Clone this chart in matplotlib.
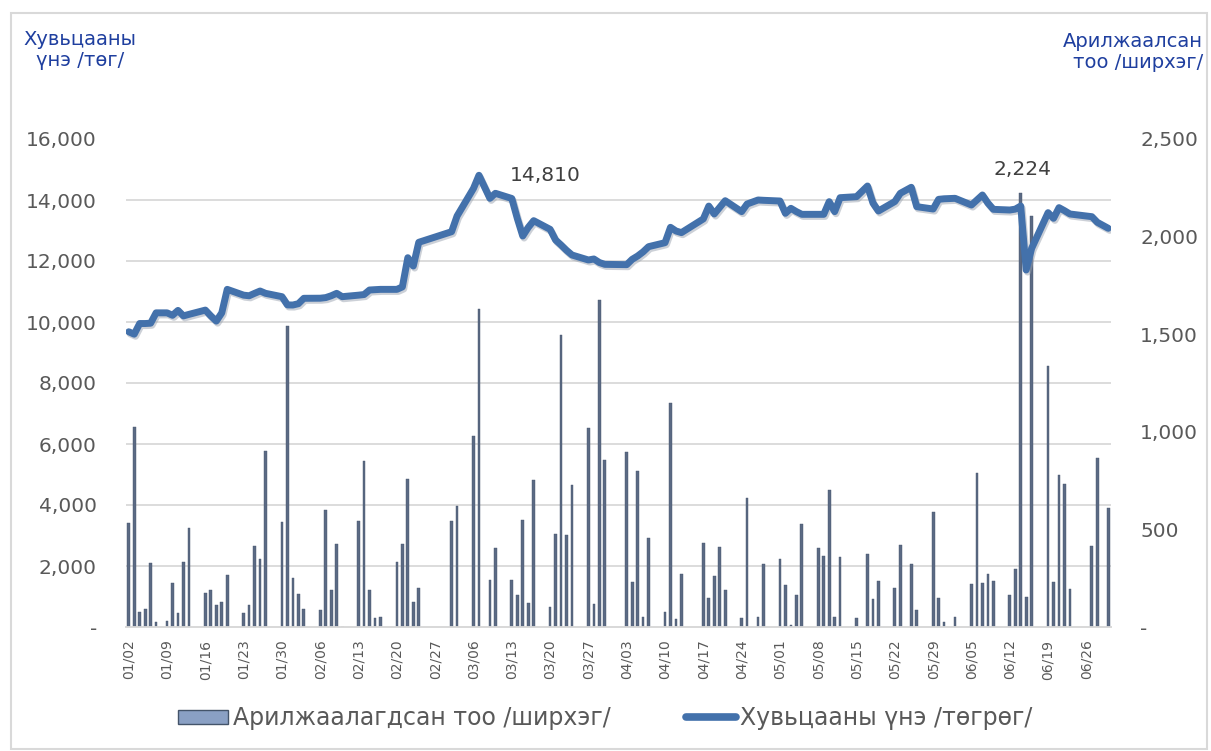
import matplotlib
matplotlib.use('Agg')
from matplotlib import pyplot as plt
import matplotlib.dates as mdates
import matplotlib.patheffects as pe
from matplotlib.patches import Patch, Rectangle
from matplotlib.lines import Line2D
from matplotlib.ticker import FuncFormatter, MultipleLocator
import pandas as pd

year = 2023
days = ['01/02', '01/03', '01/04', '01/05', '01/06', '01/07', '01/09', '01/10', '01/11', '01/12',
        '01/13', '01/16', '01/17', '01/18', '01/19', '01/20', '01/23', '01/24', '01/25', '01/26',
        '01/27', '01/30', '01/31', '02/01', '02/02', '02/03', '02/06', '02/07', '02/08', '02/09',
        '02/10', '02/13', '02/14', '02/15', '02/16', '02/17', '02/20', '02/21', '02/22', '02/23',
        '02/24', '03/02', '03/03', '03/06', '03/07', '03/09', '03/10', '03/13', '03/14', '03/15',
        '03/16', '03/17', '03/20', '03/21', '03/22', '03/23', '03/24', '03/27', '03/28', '03/29',
        '03/30', '04/03', '04/04', '04/05', '04/06', '04/07', '04/10', '04/11', '04/12', '04/13',
        '04/17', '04/18', '04/19', '04/20', '04/21', '04/24', '04/25', '04/27', '04/28', '05/01',
        '05/02', '05/03', '05/04', '05/05', '05/08', '05/09', '05/10', '05/11', '05/12', '05/15',
        '05/17', '05/18', '05/19', '05/22', '05/23', '05/25', '05/26', '05/29', '05/30', '05/31',
        '06/02', '06/05', '06/06', '06/07', '06/08', '06/09', '06/12', '06/13', '06/14', '06/15',
        '06/16', '06/19', '06/20', '06/21', '06/22', '06/23', '06/27', '06/28', '06/30']

volume = [531, 1026, 75, 92, 326, 24, 29, 224, 73, 331,
          507, 174, 188, 113, 128, 266, 70, 113, 415, 347,
          903, 536, 1542, 249, 169, 92, 87, 599, 190, 424,
          0, 543, 852, 190, 44, 50, 331, 424, 760, 126,
          198, 543, 620, 980, 1629, 241, 403, 241, 164, 548,
          125, 753, 101, 475, 1496, 472, 727, 1021, 118, 1675,
          855, 898, 229, 801, 50, 454, 75, 1149, 41, 270,
          429, 147, 261, 411, 190, 44, 659, 50, 323, 348,
          215, 8, 164, 526, 403, 364, 702, 50, 357, 44,
          372, 142, 237, 198, 420, 323, 87, 587, 147, 24,
          50, 220, 791, 227, 271, 236, 164, 295, 2224, 152,
          2105, 1339, 229, 779, 733, 193, 415, 868, 608]

price = [9680, 9600, 9950, 9950, 9960, 10300, 10300, 10220, 10380, 10200,
         10250, 10390, 10200, 10030, 10300, 11070, 10880, 10860, 10940, 11016,
         10940, 10830, 10560, 10557, 10600, 10777, 10780, 10800, 10860, 10940,
         10830, 10880, 10900, 11049, 11060, 11070, 11070, 11150, 12108, 11836,
         12613, 12961, 13475, 14380, 14810, 14055, 14220, 14050, 13400, 12820,
         13100, 13322, 13038, 12689, 12525, 12350, 12197, 12033, 12066, 11950,
         11890, 11880, 12055, 12164, 12300, 12470, 12600, 13104, 12984, 12930,
         13380, 13800, 13541, 13760, 13977, 13618, 13869, 14000, 13990, 13967,
         13563, 13727, 13620, 13530, 13530, 13530, 13945, 13618, 14076, 14109,
         14459, 13900, 13639, 13950, 14220, 14416, 13781, 13705, 14022, 14040,
         14055, 13836, 14000, 14164, 13900, 13694, 13672, 13700, 13803, 11705,
         12415, 13585, 13400, 13749, 13650, 13541, 13453, 13268, 13072]

bar_label = 'Арилжаалагдсан тоо /ширхэг/'
line_label = 'Хувьцааны үнэ /төгрөг/'
left_title = 'Хувьцааны\nүнэ /төг/'
right_title = 'Арилжаалсан\nтоо /ширхэг/'

dates = pd.to_datetime([f'{year}/{d}' for d in days], format='%Y/%m/%d')

grey = '#595959'
blue = '#4371ab'
title_blue = '#1f3f9f'

plt.rcParams['font.family'] = ['DejaVu Sans']
fig = plt.figure(figsize=(12.11, 7.51), dpi=100)
fig.patches.append(Rectangle((11 / 1211, 2 / 751), 1196 / 1211, 736 / 751, transform=fig.transFigure,
                             fill=False, edgecolor='#d9d9d9', lw=1.5))

ax = fig.add_axes([126 / 1211, 124 / 751, 985 / 1211, 488 / 751])
ax2 = ax.twinx()
ax.set_zorder(ax2.get_zorder() + 1)
ax.patch.set_visible(False)

# bars on the right-hand scale
ax2.bar(dates, volume, width=0.5, color='#5b6a84', edgecolor='#44546a', lw=0.3, zorder=3)
ax2.set_ylim(0, 2500)
ax2.yaxis.set_major_locator(MultipleLocator(500))
ax2.yaxis.set_minor_locator(MultipleLocator(312.5))
ax2.grid(which='minor', axis='y', color='#d9d9d9', lw=1.3)
ax2.set_axisbelow(True)

# price line on the left-hand scale
ax.plot(dates, price, color=blue, lw=5.0, solid_joinstyle='round', solid_capstyle='round',
        path_effects=[pe.SimpleLineShadow(offset=(1, -1.5), shadow_color='#9aa3b0', alpha=0.5),
                      pe.Normal()])
ax.set_ylim(0, 16000)
ax.yaxis.set_major_locator(MultipleLocator(2000))

fmt = FuncFormatter(lambda v, p: '-' if v == 0 else f'{v:,.0f}')
ax.yaxis.set_major_formatter(fmt)
ax2.yaxis.set_major_formatter(fmt)

ax.set_xlim(pd.Timestamp(f'{year}-01-01 12:00'), pd.Timestamp(f'{year}-06-30 12:00'))
ax.set_xticks(pd.date_range(f'{year}-01-02', f'{year}-06-30', freq='7D'))
ax.xaxis.set_major_formatter(mdates.DateFormatter('%m/%d'))
ax.tick_params(axis='x', rotation=90, labelsize=10, colors=grey, length=0, pad=9)
ax.tick_params(axis='y', labelsize=14.5, colors=grey, length=0, pad=21)
ax2.tick_params(axis='y', which='both', labelsize=14.5, colors=grey, length=0, pad=21)

for a in (ax, ax2):
    for s in ('top', 'left', 'right'):
        a.spines[s].set_visible(False)
    a.spines['bottom'].set_color('#d9d9d9')
    a.spines['bottom'].set_linewidth(1.3)

# data labels
i_peak = price.index(max(price))
ax.annotate(f'{price[i_peak]:,.0f}', (dates[i_peak], price[i_peak]), xytext=(48, 0),
            textcoords='offset points', ha='center', va='center', fontsize=14.5, color='#404040')
i_max = volume.index(max(volume))
ax2.annotate(f'{volume[i_max]:,.0f}', (dates[i_max], volume[i_max]), xytext=(1, 17),
             textcoords='offset points', ha='center', va='center', fontsize=14.5, color='#404040')

fig.text(80 / 1211, 1 - 50 / 751, left_title, ha='center', va='center', fontsize=14,
         color=title_blue, multialignment='center', linespacing=1.1)
fig.text(1203 / 1211, 1 - 52 / 751, right_title, ha='right', va='center', fontsize=14,
         color=title_blue, multialignment='right', linespacing=1.1)

handles = [Patch(facecolor='#8aa0c4', edgecolor='#44546a', lw=1),
           Line2D([0], [0], color=blue, lw=5.5, solid_capstyle='round')]
fig.legend(handles, [bar_label, line_label], loc='center', bbox_to_anchor=(0.5, 1 - 718 / 751),
           ncol=2, frameon=False, labelcolor=grey, handlelength=2.1, handleheight=0.55,
           handletextpad=0.2, columnspacing=3.2,
           prop={'family': 'DejaVu Sans', 'size': 17})

fig.savefig('out.png', dpi=100)
